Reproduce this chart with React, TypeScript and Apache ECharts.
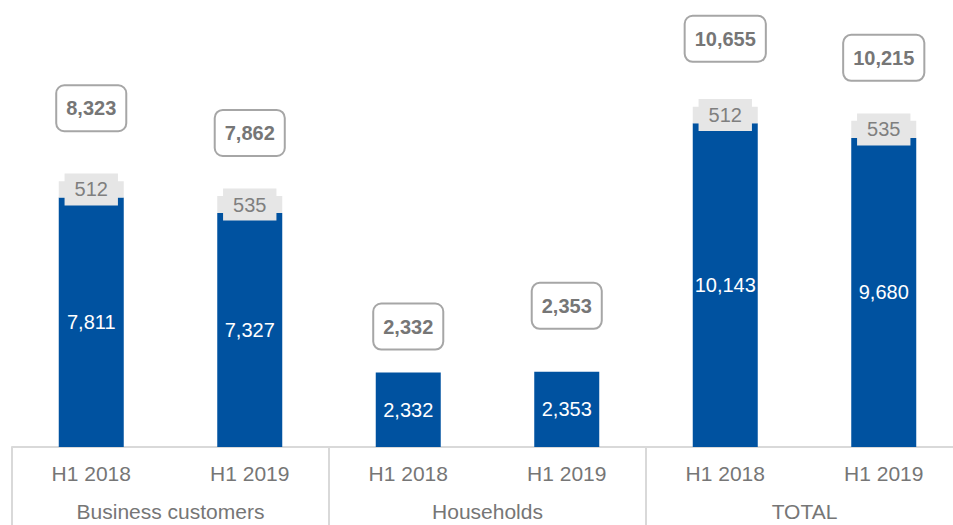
import React, { useEffect, useRef } from "react";
import * as echarts from "echarts";

const categories = ["H1 2018", "H1 2019", "H1 2018", "H1 2019", "H1 2018", "H1 2019"];
const groups = ["Business customers", "Households", "TOTAL"];
const baseValues = [7811, 7327, 2332, 2353, 10143, 9680];
const topValues = [512, 535, 0, 0, 512, 535];
const totalLabelGap = [51, 41, 24, 44, 46, 41];

const FONT = "'Liberation Sans', Arial, sans-serif";

export default function App() {
  const ref = useRef<HTMLDivElement>(null);
  useEffect(() => {
    if (!ref.current) return;
    const chart = echarts.init(ref.current, null, { renderer: "svg" });
    const totals = baseValues.map((v, i) => v + topValues[i]);
    chart.setOption({
      animation: false,
      textStyle: { fontFamily: FONT },
      grid: { left: 12, right: 0, top: 0, bottom: 78, containLabel: false },
      xAxis: [
        {
          type: "category",
          data: categories,
          axisLine: { show: true, lineStyle: { color: "#d9d9d9", width: 2 } },
          axisTick: { show: false },
          axisLabel: { color: "#767676", fontSize: 21, margin: 16, fontFamily: FONT },
        },
        {
          type: "category",
          data: groups,
          position: "bottom",
          offset: 0,
          axisLine: { show: false },
          axisTick: { show: true, inside: false, length: 78, lineStyle: { color: "#d9d9d9", width: 2 } },
          axisLabel: { color: "#767676", fontSize: 21, margin: 54, fontFamily: FONT },
        },
      ],
      yAxis: { type: "value", min: 0, max: 14000, show: false, splitLine: { show: false } },
      series: [
        {
          type: "bar",
          stack: "s",
          barWidth: 65,
          barGap: "-100%",
          data: baseValues,
          itemStyle: { color: "#0052A0" },
          label: {
            show: true,
            position: "inside",
            color: "#ffffff",
            fontSize: 20,
            fontFamily: FONT,
            formatter: (p: any) => Number(p.value).toLocaleString("en-US"),
          },
        },
        {
          type: "bar",
          stack: "s",
          barWidth: 65,
          barGap: "-100%",
          data: topValues.map((v) => (v === 0 ? { value: 0, label: { show: false } } : v)),
          itemStyle: { color: "#e6e6e6" },
          label: {
            show: true,
            position: "inside",
            color: "#7f7f7f",
            fontSize: 20,
            fontFamily: FONT,
            backgroundColor: "#e6e6e6",
            padding: [6, 10],
            formatter: (p: any) => Number(p.value).toLocaleString("en-US"),
          },
        },
        {
          type: "bar",
          barWidth: 65,
          barGap: "-100%",
          silent: true,
          z: 5,
          itemStyle: { color: "rgba(0,0,0,0)" },
          data: totals.map((v, i) => ({ value: v, label: { distance: totalLabelGap[i] } })),
          label: {
            show: true,
            position: "top",
            color: "#767676",
            fontSize: 20,
            fontWeight: "bold",
            fontFamily: FONT,
            backgroundColor: "#ffffff",
            borderColor: "#a6a6a6",
            borderWidth: 2,
            borderRadius: 7,
            padding: [12, 9],
            formatter: (p: any) => Number(p.value).toLocaleString("en-US"),
          },
        },
      ],
    });
    return () => chart.dispose();
  }, []);
  return (
    <div
      style={{ position: "fixed", left: 0, top: 0, width: 953, height: 525, overflow: "hidden", background: "#ffffff" }}
    >
      <div ref={ref} style={{ width: 963, height: 525 }} />
    </div>
  );
}
